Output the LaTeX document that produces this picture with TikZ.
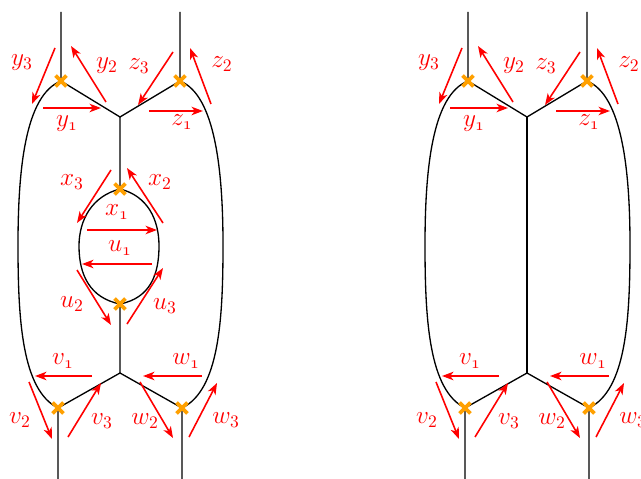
\documentclass[tikz,border=0pt]{standalone}
\usetikzlibrary{arrows.meta,shapes.misc}
\newcommand{\onest}{\mathnormal{1}}
\definecolor{vtxorange}{RGB}{255,160,0}

\tikzset{
  leg/.style={line width=0.75pt},
  flow/.style={red,line width=0.9pt,-{Stealth[length=6.5pt,width=4.8pt,inset=1.8pt]}},
  lbl/.style={red,inner sep=0pt,font=\fontsize{14.5}{17}\selectfont},
  vtx/.style={cross out,draw=vtxorange,line width=2.2pt,minimum size=4pt,inner sep=0pt},
}

\begin{document}
\begin{tikzpicture}[x=0.02cm,y=-0.02cm]
\useasboundingbox (0,0) rectangle (641,479);
% ---------- common frame of (a) and (b) ----------
\foreach \dx/\s in {0/a,407/b}{
\begin{scope}[shift={(\dx,0)}]
\coordinate (tl\s) at (61,81);
\coordinate (tr\s) at (180,81);
\coordinate (bl\s) at (58,408);
\coordinate (br\s) at (182,408);
\coordinate (jt\s) at (120,117);
\coordinate (jb\s) at (120,373);
% legs and trivalent vertices
\draw[leg] (61,12) -- (tl\s) -- (jt\s) -- (tr\s) -- (180,12);
\draw[leg] (58,479) -- (bl\s) -- (jb\s) -- (br\s) -- (182,479);
% outer arcs
\draw[leg] (tl\s) .. controls (25,95) and (18,170) .. (18,245)
  .. controls (18,320) and (22,390) .. (bl\s);
\draw[leg] (tr\s) .. controls (215,95) and (223,170) .. (223,245)
  .. controls (223,320) and (219,390) .. (br\s);
% y, z, v, w
\foreach \xa/\ya/\xb/\yb/\lab/\xl/\yl [count=\i] in {
  43/108/101/108/y_{\onest}/67/124,
  106/102/71/46/y_2/107/66,
  55/48/32/104/y_3/22/63,
  149/111/203/111/z_{\onest}/182/122,
  211/104/190/48/z_2/222/64,
  173/52/138/105/z_3/139/66,
  92/376/35/376/v_{\onest}/63/361,
  29/382/52/439/v_2/20/420,
  68/437/101/383/v_3/102/421,
  202/376/143/376/w_{\onest}/186/361,
  140/382/173/438/w_2/145/421,
  189/437/217/383/w_3/226/420}{
  \draw[flow] (\xa,\ya) -- (\xb,\yb);
  \node[lbl] (t\s\i) at (\xl,\yl) {$\lab$};
}
\end{scope}
}
% ---------- (a) bubble ----------
\coordinate (lt) at (120,189);
\coordinate (lb) at (120,304);
\draw[leg] (jta) -- (lt) .. controls (92,196) and (79,220) .. (79,246)
  .. controls (79,275) and (90,298) .. (lb) -- (jba);
\draw[leg] (lt) .. controls (148,196) and (159,220) .. (159,246)
  .. controls (159,275) and (150,298) .. (lb);
\foreach \xa/\ya/\xb/\yb/\lab/\xl/\yl [count=\i] in {
  87/230/157/230/x_{\onest}/117/212,
  163/223/127/168/x_2/160/182,
  111/170/77/223/x_3/72/182,
  152/264/82/264/u_{\onest}/120/248,
  77/270/111/325/u_2/72/304,
  127/324/163/268/u_3/165/306}{
  \draw[flow] (\xa,\ya) -- (\xb,\yb);
  \node[lbl] (q\i) at (\xl,\yl) {$\lab$};
}
% ---------- (b) straight line ----------
\draw[leg] (jtb) -- (jbb);
% ---------- crosses ----------
\foreach \c in {tla,tra,bla,bra,tlb,trb,blb,brb,lt,lb}
  \node[vtx] (x\c) at (\c) {};
\end{tikzpicture}
\end{document}
